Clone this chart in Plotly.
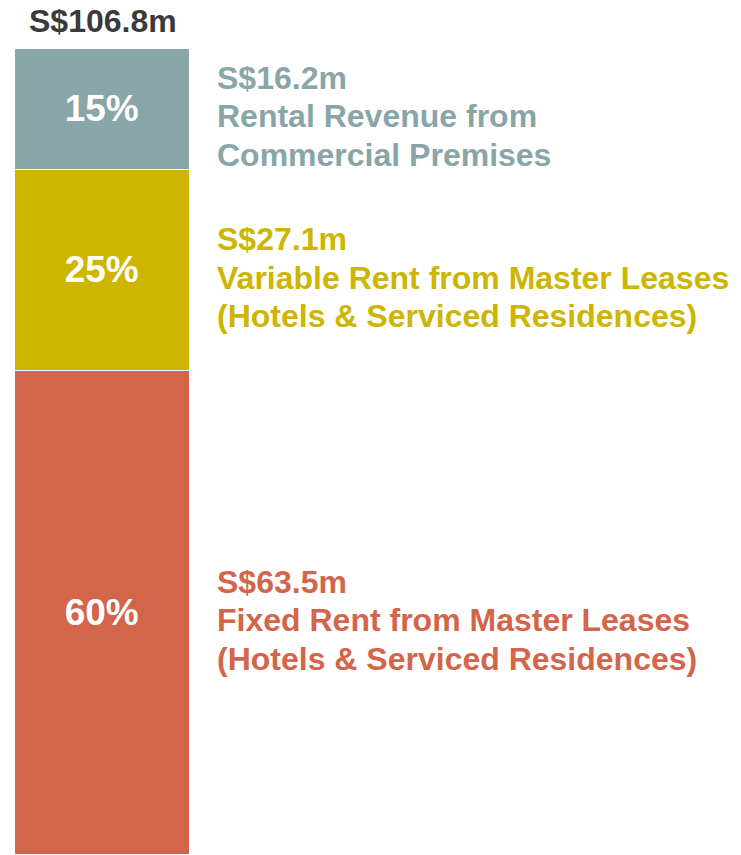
import plotly.graph_objects as go

# ── Data ─────────────────────────────────────────────────────────────────────
segments = ["Fixed Rent", "Variable Rent", "Commercial"]
shares_pct = [60, 25, 15]
amounts_m = [63.5, 27.1, 16.2]
descriptions = [
    ["Fixed Rent from Master Leases", "(Hotels & Serviced Residences)"],
    ["Variable Rent from Master Leases", "(Hotels & Serviced Residences)"],
    ["Rental Revenue from", "Commercial Premises"],
]
total_label = "S$106.8m"
colors = ["#D2654A", "#CDB500", "#88A5A7"]

_FONT = "Liberation Sans, Arial, sans-serif"
LINE_PX = 38.5

fig = go.Figure()

for name, pct, col in zip(segments, shares_pct, colors):
    fig.add_trace(go.Bar(
        x=[0], y=[pct], name=name,
        marker=dict(color=col, line=dict(color="white", width=1.5)),
        text=[f"<b>{pct}%</b>"], textposition="inside", insidetextanchor="middle",
        textfont=dict(family=_FONT, size=37, color="white"),
        textangle=0, hoverinfo="skip",
    ))

# side labels, one annotation per line, centred on each segment
base = 0
for pct, amt, desc, col in zip(shares_pct, amounts_m, descriptions, colors):
    lines = [f"S${amt}m"] + desc
    for i, ln in enumerate(lines):
        fig.add_annotation(
            x=1.145, xref="paper", xanchor="left",
            y=base + pct / 2, yref="y", yanchor="middle",
            yshift=-7 + (1 - i) * LINE_PX,
            text=f"<b>{ln}</b>", align="left", showarrow=False,
            font=dict(family=_FONT, size=32, color=col),
        )
    base += pct

fig.add_annotation(
    x=0.5, xref="paper", xanchor="center",
    y=1, yref="paper", yanchor="bottom", yshift=8,
    text=f"<b>{total_label}</b>", showarrow=False,
    font=dict(family=_FONT, size=32, color="#3A3A3A"),
)

fig.update_layout(
    width=741, height=855,
    barmode="stack", bargap=0,
    showlegend=False,
    plot_bgcolor="white", paper_bgcolor="white",
    margin=dict(l=15, r=551, t=49, b=0),
    xaxis=dict(visible=False, range=[-0.5, 0.5], fixedrange=True),
    yaxis=dict(visible=False, range=[0, 100], fixedrange=True),
)

fig.write_html(
    "out.html",
    config={"displayModeBar": False},
    post_script="document.body.style.margin='0';",
)
